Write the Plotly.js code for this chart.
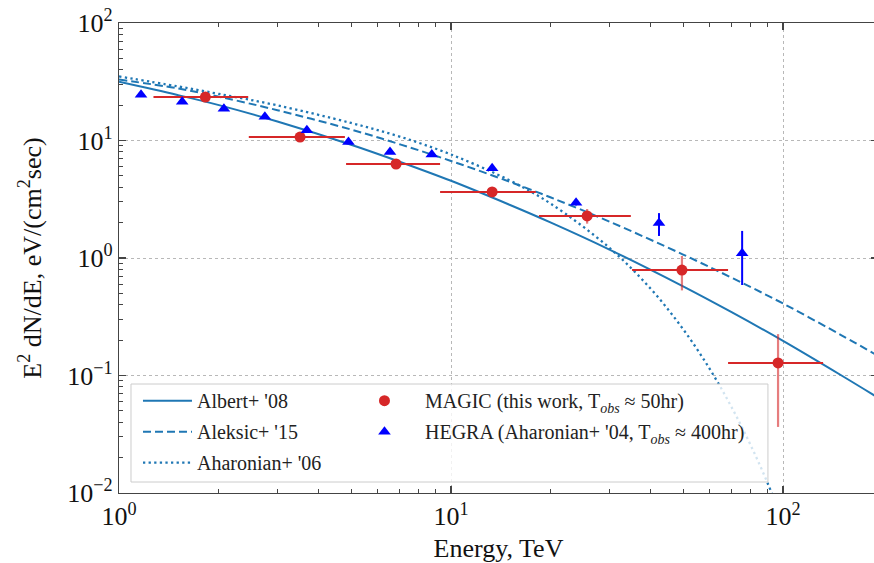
<!DOCTYPE html>
<html>
<head>
<meta charset="utf-8">
<script src="https://cdn.plot.ly/plotly-3.0.1.min.js"></script>
<style>html,body{margin:0;padding:0;overflow:hidden;background:#fff}</style>
</head>
<body>
<div id="chart" style="width:878px;height:563px"></div>
<script>
// ---- model curves ----
const curveE     = [1, 1.5, 2, 3, 5, 7, 10, 15, 20, 30, 50, 70, 100, 150, 200];
const albert08   = [31.6, 24.4, 20.0, 14.5, 9.2, 6.6, 4.54, 2.84, 2.0, 1.18, 0.574, 0.346, 0.197, 0.100, 0.061];
const aleksic15  = [33.0, 27.8, 23.6, 18.1, 12.4, 9.3, 6.7, 4.46, 3.27, 2.04, 1.07, 0.68, 0.41, 0.22, 0.139];
const aharonianE = [1, 1.5, 2, 3, 5, 7, 10, 15, 20, 30, 40, 50, 60, 70, 80, 90, 100];
const aharonian06 = [35.1, 28.9, 24.9, 19.9, 14.1, 10.8, 7.6, 4.58, 2.89, 1.22, 0.544, 0.248, 0.115, 0.0537, 0.0253, 0.0120, 0.0056];

// ---- MAGIC (this work) ----
const magicE    = [1.82, 3.51, 6.83, 13.3, 25.7, 49.6, 96.6];
const magicElo  = [1.27, 2.46, 4.83, 9.27, 18.4, 35.1, 68.3];
const magicEhi  = [2.45, 4.79, 9.27, 18.0, 34.8, 68.3, 132];
const magicF    = [23.4, 10.7, 6.31, 3.65, 2.28, 0.79, 0.128];
const magicFlo  = [22.6, 10.3, 6.05, 3.5, 1.96, 0.53, 0.0365];
const magicFhi  = [24.2, 11.1, 6.6, 3.8, 2.61, 1.04, 0.225];

// ---- HEGRA (Aharonian+ '04) ----
const hegraE   = [1.165, 1.55, 2.07, 2.75, 3.68, 4.91, 6.55, 8.75, 13.3, 23.8, 42.3, 75.3];
const hegraF   = [24.5, 21.4, 18.6, 15.9, 12.2, 9.7, 8.0, 7.6, 5.8, 2.95, 1.99, 1.10];
const hegraFlo = [23.9, 20.9, 18.1, 15.5, 11.9, 9.4, 7.7, 7.3, 5.55, 2.8, 1.54, 0.589];
const hegraFhi = [25.1, 21.9, 19.1, 16.3, 12.5, 10.0, 8.3, 7.9, 6.05, 3.1, 2.41, 1.70];

// ---- tick labels ----
const xTickVals = [1, 10, 100];
const xTickText = ['10<sup>0</sup>', '10<sup>1</sup>', '10<sup>2</sup>'];
const yTickVals = [0.01, 0.1, 1, 10, 100];
const yTickText = ['10<sup>\u22122</sup>', '10<sup>\u22121</sup>', '10<sup>0</sup>', '10<sup>1</sup>', '10<sup>2</sup>'];

const FONT = 'Liberation Serif, Times New Roman, serif';
const BLUE = '#1f77b4';
const RED = '#d62728';

function minorVals(lo, hi) {
  const out = [];
  for (let d = lo; d < hi; d++) for (let k = 2; k <= 9; k++) out.push(k * Math.pow(10, d));
  return out;
}

const traces = [
  {x: curveE, y: albert08, mode: 'lines', name: "Albert+ '08", legendgroup: 'a',
   line: {color: BLUE, width: 2, shape: 'spline'}},
  {x: curveE, y: aleksic15, mode: 'lines', name: "Aleksic+ '15", legendgroup: 'b',
   line: {color: BLUE, width: 2, dash: '8px,4px', shape: 'spline'}},
  {x: aharonianE, y: aharonian06, mode: 'lines', name: "Aharonian+ '06", legendgroup: 'c',
   line: {color: BLUE, width: 2.3, dash: '2.3px,3.3px', shape: 'spline'}},
  {x: magicE, y: magicF, mode: 'markers', name: 'MAGIC (this work, T<sub><i>obs</i></sub> \u2248 50hr)',
   legend: 'legend2', legendgroup: 'd',
   marker: {color: RED, size: 11, symbol: 'circle'},
   error_x: {type: 'data', symmetric: false,
     array: magicE.map((v, i) => magicEhi[i] - v), arrayminus: magicE.map((v, i) => v - magicElo[i]),
     color: RED, thickness: 2, width: 0},
   error_y: {type: 'data', symmetric: false,
     array: magicF.map((v, i) => magicFhi[i] - v), arrayminus: magicF.map((v, i) => v - magicFlo[i]),
     color: 'rgba(214,39,40,0.6)', thickness: 2.2, width: 0}},
  {x: hegraE, y: hegraF, mode: 'markers', name: "HEGRA (Aharonian+ '04, T<sub><i>obs</i></sub> \u2248 400hr)",
   legend: 'legend2', legendgroup: 'e',
   marker: {color: '#0000ff', size: 11, symbol: 'triangle-up'},
   error_y: {type: 'data', symmetric: false,
     array: hegraF.map((v, i) => hegraFhi[i] - v), arrayminus: hegraF.map((v, i) => v - hegraFlo[i]),
     color: '#0000ff', thickness: 2, width: 0}}
];

const axisCommon = {
  type: 'log', showline: true, linecolor: '#444', linewidth: 1.25, mirror: 'ticks',
  ticks: 'inside', ticklen: 7, tickwidth: 1.25, tickcolor: '#444',
  showgrid: true, gridcolor: '#b8b8b8', griddash: '3px,3px', gridwidth: 1,
  zeroline: false, tickmode: 'array',
  tickfont: {family: FONT, size: 26, color: '#111'}
};

const layout = {
  width: 878, height: 563,
  margin: {l: 119, r: 0, t: 23, b: 70},
  paper_bgcolor: '#fff', plot_bgcolor: '#fff',
  showlegend: true,
  xaxis: Object.assign({}, axisCommon, {
    range: [0, 2.286], tickvals: xTickVals, ticktext: xTickText,
    minor: {tickmode: 'array', tickvals: minorVals(0, 3), ticks: 'inside', ticklen: 4, tickwidth: 1, tickcolor: '#444', showgrid: false},
    title: {text: 'Energy, TeV', font: {family: FONT, size: 26, color: '#111'}, standoff: 8},
    automargin: false
  }),
  yaxis: Object.assign({}, axisCommon, {
    range: [-2, 2], tickvals: yTickVals, ticktext: yTickText,
    minor: {tickmode: 'array', tickvals: minorVals(-2, 2), ticks: 'inside', ticklen: 4, tickwidth: 1, tickcolor: '#444', showgrid: false},
    title: {text: 'E<sup>2</sup> dN/dE, eV/(cm<sup>2</sup>sec)', font: {family: FONT, size: 26, color: '#111'}, standoff: 18},
    automargin: false
  }),
  legend: {x: 0.025, y: 0.238, xanchor: 'left', yanchor: 'top', bgcolor: 'rgba(0,0,0,0)', borderwidth: 0,
    font: {family: FONT, size: 20, color: '#222'}, itemwidth: 49, tracegroupgap: 2},
  legend2: {x: 0.2964, y: 0.238, xanchor: 'left', yanchor: 'top', bgcolor: 'rgba(0,0,0,0)', borderwidth: 0,
    font: {family: FONT, size: 20, color: '#222'}, itemwidth: 71, tracegroupgap: 2},
  shapes: [{type: 'rect', xref: 'paper', yref: 'paper', x0: 0.0158, x1: 0.855, y0: 0.0234, y1: 0.2319,
    fillcolor: 'rgba(255,255,255,0.8)', line: {color: '#cccccc', width: 1}, layer: 'above'}]
};

Plotly.newPlot('chart', traces, layout, {displayModeBar: false, staticPlot: true});
</script>
</body>
</html>
